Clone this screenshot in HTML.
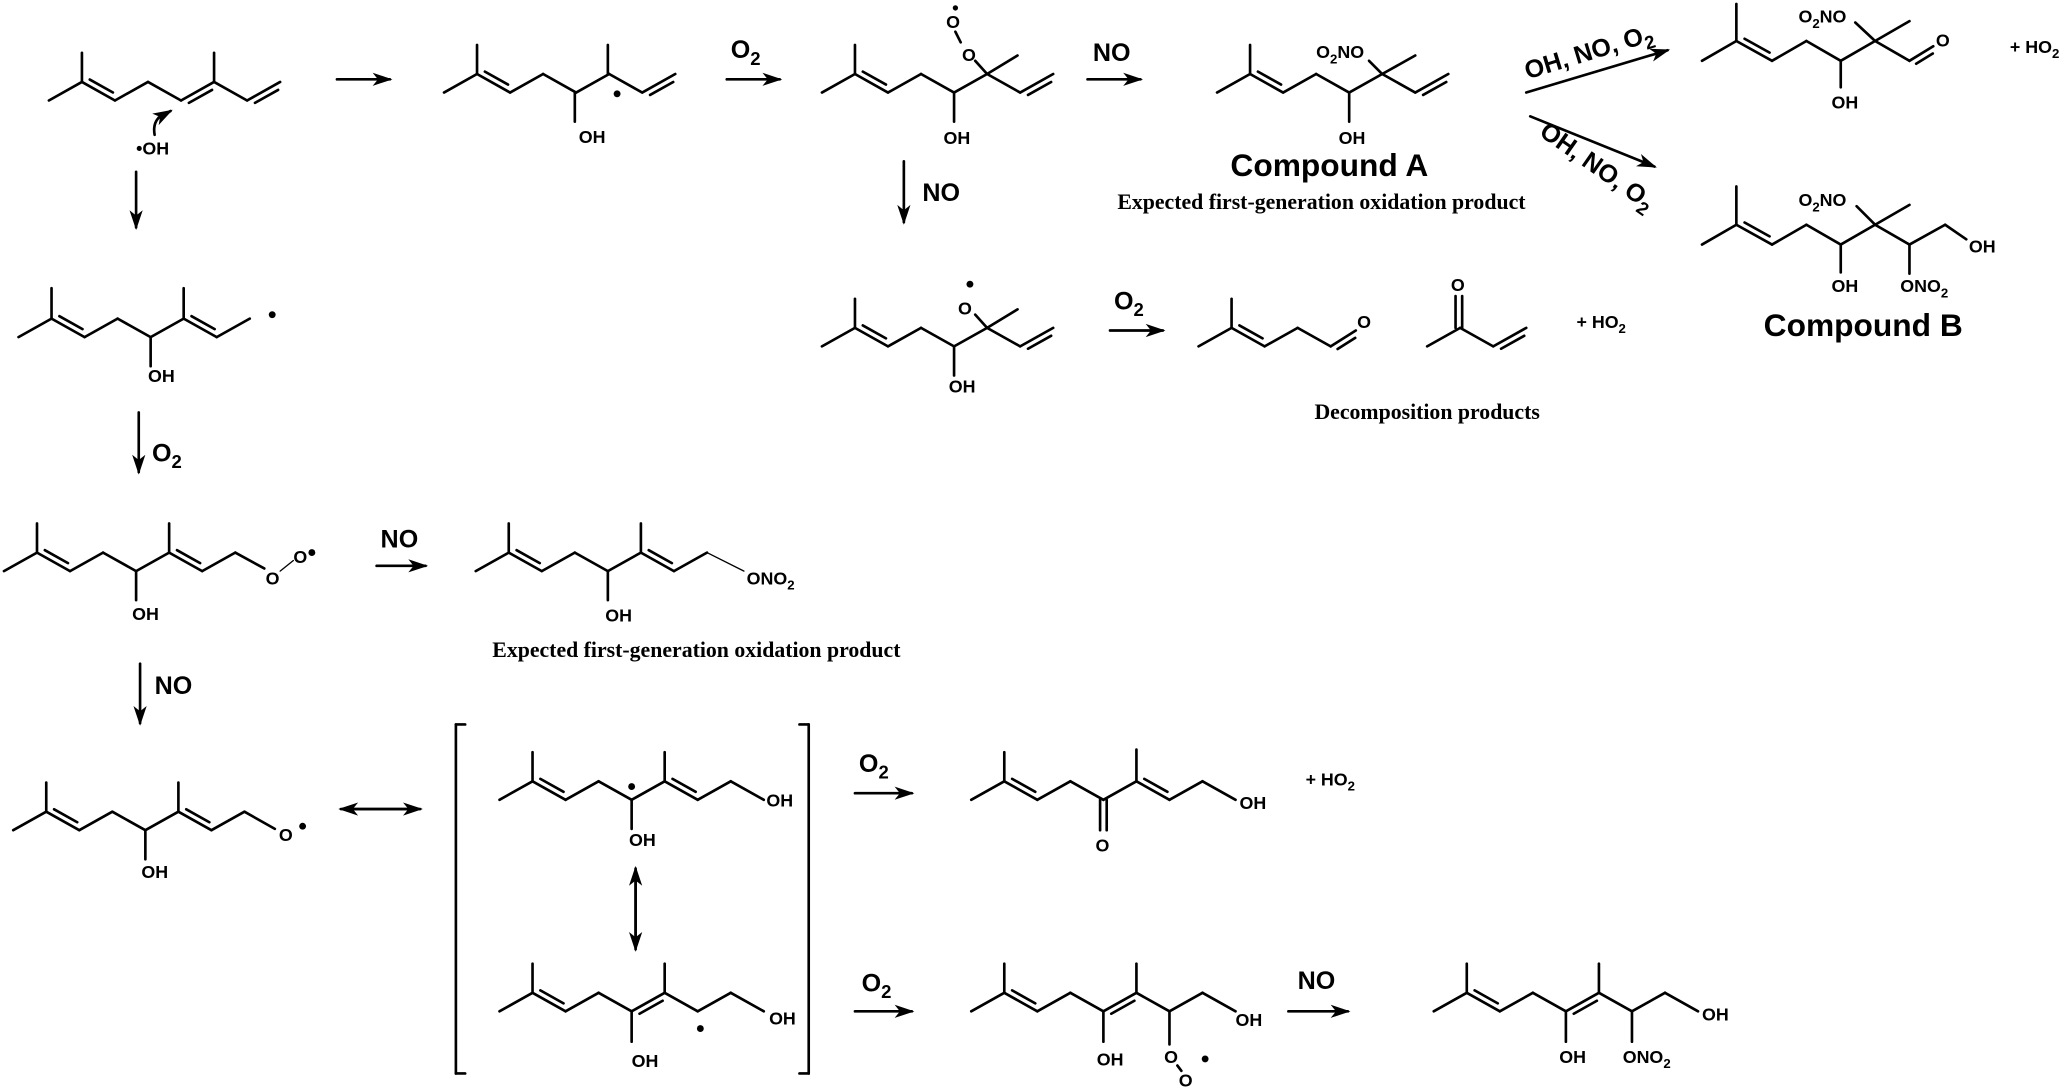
<!DOCTYPE html>
<html><head><meta charset="utf-8">
<style>
html,body{margin:0;padding:0;background:#fff;}
svg{display:block;}
.t{font-family:"Liberation Sans",Arial,sans-serif;font-weight:bold;font-size:13.5px;fill:#000;}
.r{font-family:"Liberation Sans",Arial,sans-serif;font-weight:bold;font-size:19px;fill:#000;}
.c{font-family:"Liberation Sans",Arial,sans-serif;font-weight:bold;font-size:24px;fill:#000;}
.s{font-family:"Liberation Serif","Times New Roman",serif;font-weight:bold;font-size:16.5px;fill:#000;}
</style></head>
<body>
<svg id="s" width="2072" height="1088" viewBox="0 0 1568 823" preserveAspectRatio="none" xmlns="http://www.w3.org/2000/svg">
<g id="g" stroke="#000" stroke-width="2" fill="none" stroke-linecap="round"></g>
<g id="f" fill="#000"></g>
<text class="t" x="103" y="117">•OH</text>
<text class="t" x="438" y="108">OH</text>
<circle cx="467" cy="71" r="2.6" fill="#000"/>
<text class="r" x="553" y="44">O<tspan dy="5" font-size="14">2</tspan></text>
<text class="t" x="714" y="109">OH</text>
<text class="t" x="728" y="46">O</text>
<text class="t" x="716" y="21">O</text>
<circle cx="723" cy="6" r="2" fill="#000"/>
<text class="r" x="827" y="46">NO</text>
<text class="t" x="1013" y="109">OH</text>
<text class="t" x="996" y="44">O<tspan dy="4" font-size="10">2</tspan><tspan dy="-4">NO</tspan></text>
<text class="c" x="1006" y="133" text-anchor="middle">Compound A</text>
<text class="s" x="1000" y="158" text-anchor="middle">Expected first-generation oxidation product</text>
<text class="r" transform="translate(1156,60) rotate(-17)">OH, NO, O<tspan dy="5" font-size="14">2</tspan></text>
<text class="r" transform="translate(1164,102) rotate(35)">OH, NO, O<tspan dy="5" font-size="14">2</tspan></text>
<text class="t" x="1386" y="82">OH</text>
<text class="t" x="1361" y="17">O<tspan dy="4" font-size="10">2</tspan><tspan dy="-4">NO</tspan></text>
<text class="t" x="1465" y="35">O</text>
<text class="t" x="1521" y="40">+ HO<tspan dy="4" font-size="10">2</tspan></text>
<text class="t" x="1386" y="221">OH</text>
<text class="t" x="1361" y="156">O<tspan dy="4" font-size="10">2</tspan><tspan dy="-4">NO</tspan></text>
<text class="t" x="1438" y="221">ONO<tspan dy="4" font-size="10">2</tspan></text>
<text class="t" x="1490" y="191">OH</text>
<text class="c" x="1410" y="254" text-anchor="middle">Compound B</text>
<text class="r" x="698" y="152">NO</text>
<text class="t" x="718" y="297">OH</text>
<text class="t" x="725" y="238">O</text>
<circle cx="734" cy="215" r="2.6" fill="#000"/>
<text class="r" x="843" y="234">O<tspan dy="5" font-size="14">2</tspan></text>
<text class="t" x="1027" y="248">O</text>
<text class="t" x="1098" y="220">O</text>
<text class="t" x="1193" y="248">+ HO<tspan dy="4" font-size="10">2</tspan></text>
<text class="s" x="1080" y="317" text-anchor="middle">Decomposition products</text>
<text class="t" x="112" y="289">OH</text>
<circle cx="206" cy="238" r="2.6" fill="#000"/>
<text class="r" x="115" y="349">O<tspan dy="5" font-size="14">2</tspan></text>
<text class="t" x="100" y="469">OH</text>
<text class="t" x="201" y="442">O</text>
<text class="t" x="222" y="426">O</text>
<circle cx="236" cy="418" r="2.6" fill="#000"/>
<text class="r" x="288" y="414">NO</text>
<text class="t" x="458" y="470">OH</text>
<text class="t" x="565" y="442">ONO<tspan dy="4" font-size="10">2</tspan></text>
<text class="s" x="527" y="497" text-anchor="middle">Expected first-generation oxidation product</text>
<text class="r" x="117" y="525">NO</text>
<text class="t" x="107" y="664">OH</text>
<text class="t" x="211" y="636">O</text>
<circle cx="229" cy="625" r="2.6" fill="#000"/>
<text class="t" x="476" y="640">OH</text>
<circle cx="478" cy="595" r="2.6" fill="#000"/>
<text class="t" x="580" y="610">OH</text>
<text class="t" x="478" y="807">OH</text>
<circle cx="530" cy="778" r="2.6" fill="#000"/>
<text class="t" x="582" y="775">OH</text>
<text class="r" x="650" y="584">O<tspan dy="5" font-size="14">2</tspan></text>
<text class="t" x="829" y="644">O</text>
<text class="t" x="938" y="612">OH</text>
<text class="t" x="988" y="594">+ HO<tspan dy="4" font-size="10">2</tspan></text>
<text class="r" x="652" y="750">O<tspan dy="5" font-size="14">2</tspan></text>
<text class="t" x="830" y="806">OH</text>
<text class="t" x="881" y="804">O</text>
<text class="t" x="892" y="822">O</text>
<circle cx="912" cy="801" r="2.6" fill="#000"/>
<text class="t" x="935" y="776">OH</text>
<text class="r" x="982" y="748">NO</text>
<text class="t" x="1180" y="804">OH</text>
<text class="t" x="1228" y="804">ONO<tspan dy="4" font-size="10">2</tspan></text>
<text class="t" x="1288" y="772">OH</text>
</svg>
<script>
var g=document.getElementById('g'),f=document.getElementById('f'),NS='http://www.w3.org/2000/svg';
function L(a,b,c,d,w){var l=document.createElementNS(NS,'line');l.setAttribute('x1',a);l.setAttribute('y1',b);l.setAttribute('x2',c);l.setAttribute('y2',d);if(w)l.setAttribute('stroke-width',w);g.appendChild(l);}
function D(a,b,c,d){L(a,b,c,d);var dx=c-a,dy=d-b,l=Math.hypot(dx,dy),nx=dy/l,ny=-dx/l;if(dy<0){nx=-nx;ny=-ny;}if(dy==0){ny=-Math.abs(ny);}var o=4.5,k=0.15;L(a+dx*k+nx*o,b+dy*k+ny*o,c-dx*k+nx*o,d-dy*k+ny*o);}
function DV(a,b,c,d){L(a-2.5,b,c-2.5,d);L(a+2.5,b,c+2.5,d);}
function A(a,b,c,d){L(a,b,c,d);var dx=c-a,dy=d-b,l=Math.hypot(dx,dy),ux=dx/l,uy=dy/l,h=13,w=5;var p=document.createElementNS(NS,'polygon');
p.setAttribute('points',(c+ux*2)+','+(d+uy*2)+' '+(c-ux*h-uy*w)+','+(d-uy*h+ux*w)+' '+(c-ux*(h-4))+','+(d-uy*(h-4))+' '+(c-ux*h+uy*w)+','+(d-uy*h-ux*w));f.appendChild(p);}
function A2(a,b,c,d){var dx=c-a,dy=d-b,l=Math.hypot(dx,dy),ux=dx/l,uy=dy/l;A(a+ux*10,b+uy*10,c,d);A(c-ux*10,d-uy*10,a,b);}
function C(pts,dbl){for(var i=0;i<pts.length-1;i++){var p=pts[i],q=pts[i+1];if(dbl.indexOf(i)>=0)D(p[0],p[1],q[0],q[1]);else L(p[0],p[1],q[0],q[1]);}}
function Z(x,y,up,n){var r=[[x,y]];for(var i=1;i<n;i++){x+=25;y+=(up?-14:14);up=!up;r.push([x,y]);}return r;}
var m=Z(37,76,true,8);C(m,[1,4,6]);L(62,62,62,40);L(162,62,162,40);
var pth=document.createElementNS(NS,'path');pth.setAttribute('d','M117,102 Q115,90 125,86');g.appendChild(pth);
A(120,89,129,84);
A(255,60,295,60);
m=Z(336,70,true,8);C(m,[1,6]);L(361,56,361,34);L(435,70,435,92);L(460,56,460,34);
A(550,60,590,60);
m=Z(622,70,true,8);C(m,[1,6]);L(647,56,647,34);L(722,70,722,92);L(747,56,770,42);L(747,56,738,46);L(727,32,723,24);
A(823,60,863,60);
m=Z(921,70,true,8);C(m,[1,6]);L(946,56,946,34);L(1021,70,1021,92);L(1046,56,1071,42);L(1046,56,1036,46);
A(1155,70,1262,38);A(1158,88,1252,126);
// top right product
C([[1288,46],[1314,31],[1341,46],[1367,31],[1393,46],[1419,31],[1445,46]],[1]);
L(1314,31,1314,3);L(1393,46,1393,66);L(1419,31,1404,17);L(1419,31,1445,16);D(1445,46,1463,35);
// Compound B
C([[1288,185],[1314,170],[1341,185],[1367,170],[1393,185],[1419,170],[1445,185],[1472,170],[1488,181]],[1]);
L(1314,170,1314,141);L(1393,185,1393,206);L(1419,170,1405,156);L(1419,170,1445,155);L(1445,185,1445,207);
A(684,122,684,168);
m=Z(622,262,true,8);C(m,[1,6]);L(647,248,647,226);L(722,262,722,284);L(747,248,770,234);L(747,248,738,238);
A(840,250,880,250);
m=Z(907,262,true,5);C(m,[1]);L(932,248,932,226);D(1007,262,1026,250);
m=Z(1080,262,true,4);C(m,[2]);DV(1104,248,1104,224);
A(103,130,103,172);
m=Z(14,255,true,8);C(m,[1,5]);L(39,241,39,218);L(114,255,114,277);L(139,241,139,218);
A(105,312,105,357);
m=Z(3,432,true,8);C(m,[1,5]);L(28,418,28,396);L(103,432,103,454);L(128,418,128,396);L(178,418,200,430);L(212,432,222,424,1);
A(285,428,322,428);
m=Z(360,432,true,8);C(m,[1,5]);L(385,418,385,396);L(460,432,460,454);L(485,418,485,396);L(535,418,563,432,1);
A(106,502,106,547);
m=Z(10,628,true,8);C(m,[1,5]);L(35,614,35,592);L(110,628,110,650);L(135,614,135,592);L(185,614,208,627);
A2(258,612,318,612);
L(352,548,345,548);L(345,548,345,812);L(345,812,352,812);
L(605,548,612,548);L(612,548,612,812);L(612,812,605,812);
m=Z(378,605,true,9);C(m,[1,5]);L(403,591,403,569);L(478,605,478,627);L(503,591,503,569);
A2(481,657,481,718);
m=Z(378,765,true,9);C(m,[1,4]);L(403,751,403,729);L(478,765,478,788);L(503,751,503,729);
A(647,600,690,600);A(647,765,690,765);
m=Z(735,605,true,9);C(m,[1,5]);L(760,591,760,569);DV(835,605,835,628);L(860,591,860,567);
m=Z(735,765,true,9);C(m,[1,4]);L(760,751,760,729);L(835,765,835,788);L(860,751,860,729);L(885,765,885,790);L(891,806,894,810);
A(975,765,1020,765);
m=Z(1085,765,true,9);C(m,[1,4]);L(1110,751,1110,729);L(1185,765,1185,788);L(1210,751,1210,729);L(1235,765,1235,788);
</script>
</body></html>
